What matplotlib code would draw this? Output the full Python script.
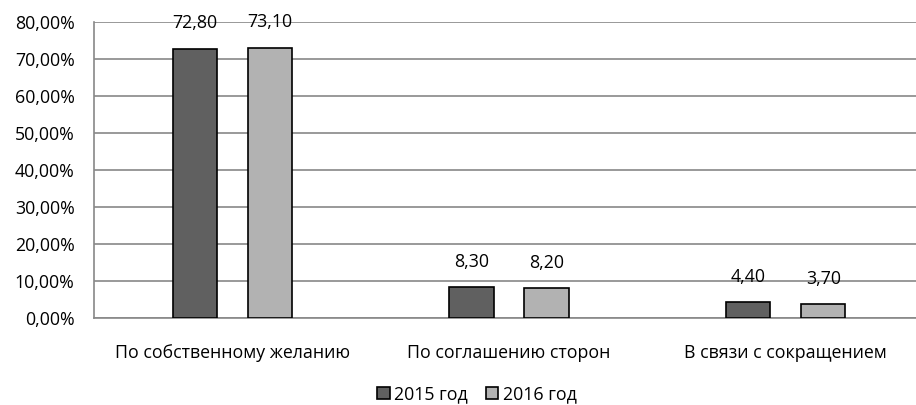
import numpy as np
import matplotlib.pyplot as plt

# reasons for dismissal, share in %
categories = ['По собственному желанию', 'По соглашению сторон', 'В связи с сокращением']
y2015 = [72.8, 8.3, 4.4]
y2016 = [73.1, 8.2, 3.7]
labels2015 = ['72,80', '8,30', '4,40']
labels2016 = ['73,10', '8,20', '3,70']
yticks = [0, 10, 20, 30, 40, 50, 60, 70, 80]
ytick_labels = ['0,00%', '10,00%', '20,00%', '30,00%', '40,00%', '50,00%', '60,00%', '70,00%', '80,00%']

plt.rcParams['font.family'] = ['Open Sans', 'DejaVu Sans']
fs = 12.8

fig = plt.figure(figsize=(9.16, 4.05), dpi=100)
ax = fig.add_axes([94 / 916, 1 - 318 / 405, 830 / 916, 296 / 405])

x = np.arange(len(categories))
w = 0.16
off = 0.136
ax.bar(x - off, y2015, w, color='#606060', edgecolor='black', linewidth=1.2, label='2015 год', zorder=3)
ax.bar(x + off, y2016, w, color='#b2b2b2', edgecolor='black', linewidth=1.2, label='2016 год', zorder=3)

for xi, v, t in zip(x, y2015, labels2015):
    ax.text(xi - off, v + 6.8, t, ha='center', va='center', fontsize=fs)
for xi, v, t in zip(x, y2016, labels2016):
    ax.text(xi + off, v + 6.8, t, ha='center', va='center', fontsize=fs)

ax.set_xlim(-0.5, 2.5)
ax.set_ylim(0, 80)
ax.set_yticks(yticks)
ax.set_yticklabels(ytick_labels, fontsize=fs)
ax.set_xticks(x)
ax.set_xticklabels(categories, fontsize=fs)
ax.tick_params(axis='both', length=0)
ax.tick_params(axis='x', pad=19)
ax.tick_params(axis='y', pad=14)
ax.grid(axis='y', color='#888888', linewidth=1.2, zorder=0)
for s in ['top', 'right']:
    ax.spines[s].set_visible(False)
for s in ['left', 'bottom']:
    ax.spines[s].set_color('#888888')
    ax.spines[s].set_linewidth(1.2)

fig.legend(loc='center', bbox_to_anchor=(477 / 916, 1 - 394 / 405), ncol=2, frameon=False,
           fontsize=fs, handlelength=0.7, handleheight=0.7, handletextpad=0.25, columnspacing=1.0)

fig.savefig('out.png', dpi=100)
